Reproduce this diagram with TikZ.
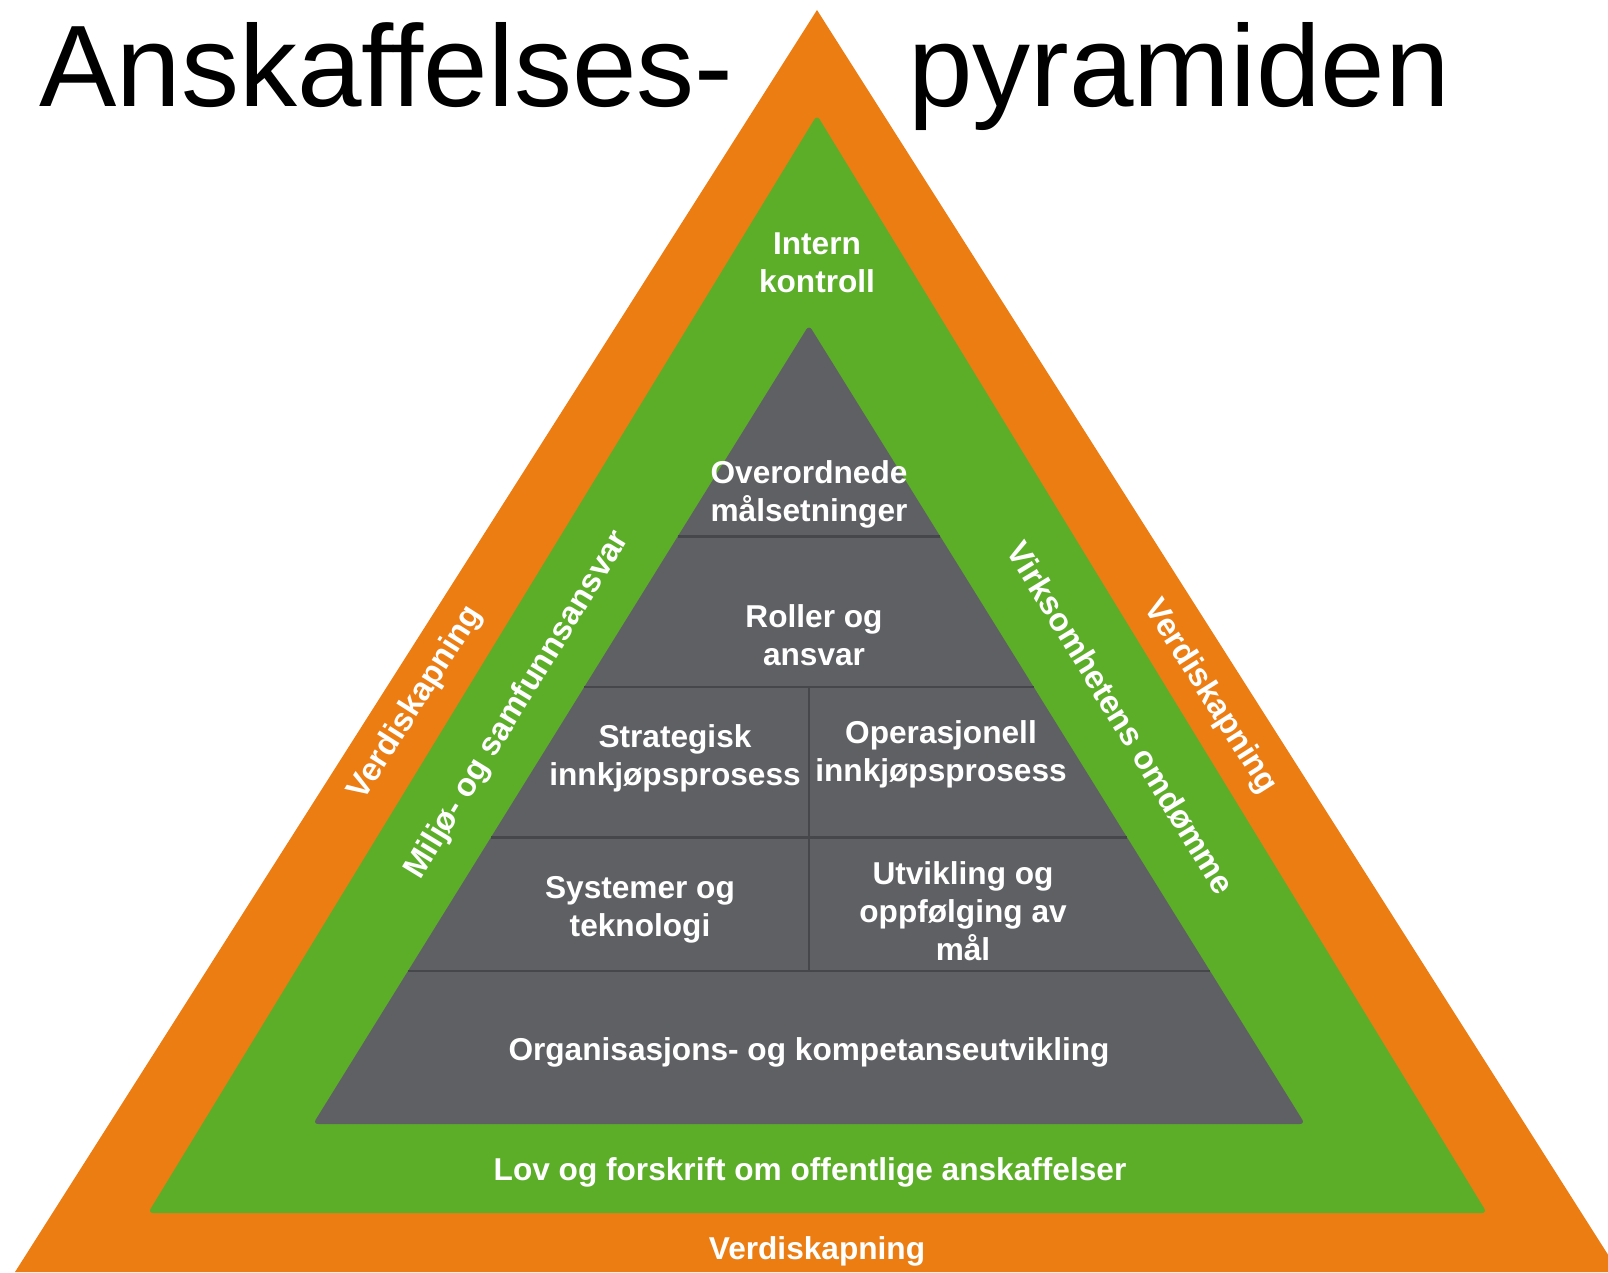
\documentclass[tikz,border=0pt]{standalone}
\usepackage{fontspec}
\setmainfont{Liberation Sans}
\usetikzlibrary{calc}
\definecolor{bandorange}{RGB}{236,125,19}
\definecolor{bandgreen}{RGB}{92,174,41}
\definecolor{pyrgray}{RGB}{95,96,99}
\definecolor{pyrline}{RGB}{70,71,74}
\tikzset{
    lab/.style={text=white, font=\fontsize{18}{21.6}\selectfont\bfseries, align=center, inner sep=0pt},
    sidelab/.style={lab, font=\fontsize{18.5}{22}\selectfont\bfseries},
    divider/.style={draw=pyrline, line width=1.5pt},
    ttl/.style={anchor=base west, inner sep=0pt, font=\fontsize{66}{79}\selectfont},
}

\begin{document}
\begin{tikzpicture}[x=0.02cm, y=-0.02cm]
    \newcommand\posC{817}
    \newcommand\posP{809}
    \useasboundingbox (0,0) rectangle (1608,1272);
    \clip (0,0) rectangle (1608,1272);

    % outer band
    \coordinate (oTop) at (\posC, 10);
    \coordinate (oL) at (15, 1272);
    \coordinate (oR) at (1619, 1272);
    \fill[bandorange] (oTop) -- (oL) -- (oR) -- cycle;

    % middle band
    \coordinate (gTop) at (\posC, 115);
    \coordinate (gL) at (148, 1213);
    \coordinate (gR) at (1487, 1213);
    \fill[bandgreen, rounded corners=3] (gTop) -- (gL) -- (gR) -- cycle;

    % pyramid
    \coordinate (pTop) at (\posP, 325);
    \coordinate (pL) at (313, 1124);
    \coordinate (pR) at (1305, 1124);
    \fill[pyrgray, rounded corners=3] (pTop) -- (pL) -- (pR) -- cycle;

    \coordinate (d1L) at ($(pTop)!0.265!(pL)$);
    \coordinate (d1R) at ($(pTop)!0.265!(pR)$);
    \coordinate (d2L) at ($(pTop)!0.453!(pL)$);
    \coordinate (d2R) at ($(pTop)!0.453!(pR)$);
    \coordinate (d3L) at ($(pTop)!0.641!(pL)$);
    \coordinate (d3R) at ($(pTop)!0.641!(pR)$);
    \coordinate (d4L) at ($(pTop)!0.8085!(pL)$);
    \coordinate (d4R) at ($(pTop)!0.8085!(pR)$);
    \draw[divider] (d1L) -- (d1R);
    \draw[divider] (d2L) -- (d2R);
    \draw[divider] (d3L) -- (d3R);
    \draw[divider] (d4L) -- (d4R);
    \draw[divider] ($(d2L)!0.5!(d2R)$) -- ($(d4L)!0.5!(d4R)$);

    % title
    \node[ttl] (ttlA) at (39, 106){Anskaffelses-};
    \node[ttl] (ttlB) at (908, 106){pyramiden};

    % pyramid texts
    \node[lab] (mal) at (\posP, 494){Overordnede\\målsetninger};
    \node[lab] (rol) at (814, 635){Roller og\\ansvar};
    \node[lab] (str) at (675, 758){Strategisk\\innkjøpsprosess};
    \node[lab] (ope) at (941, 754){Operasjonell\\innkjøpsprosess};
    \node[lab] (sys) at (640, 910){Systemer og\\teknologi};
    \node[lab] (utv) at (963, 911){Utvikling og\\oppfølging av\\mål};
    \node[lab] (org) at (\posP, 1052){Organisasjons- og kompetanseutvikling};

    % band texts
    \node[lab] (int) at (\posC, 263){Intern\\kontroll};
    \node[lab] (lov) at (810, 1172){Lov og forskrift om offentlige anskaffelser};
    \node[lab] (vdB) at (\posC, 1251){Verdiskapning};
    \node[sidelab, rotate=57.6] (vdL) at (416, 703){Verdiskapning};
    \node[sidelab, rotate=58.6] (mil) at (518, 705){Miljø- og samfunnsansvar};
    \node[sidelab, rotate=-58.6] (omd) at (1121, 718){Virksomhetens omdømme};
    \node[sidelab, rotate=-57.6] (vdR) at (1210, 697){Verdiskapning};
\end{tikzpicture}
\end{document}
